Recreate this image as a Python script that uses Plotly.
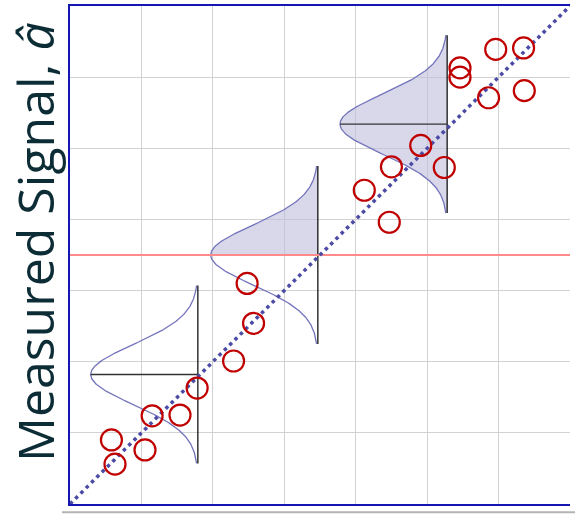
import numpy as np
import plotly.graph_objects as go

# Measured signal vs. true flaw size (arbitrary units)
flaw_size = [0.58, 0.63, 1.05, 1.15, 1.54, 1.78, 2.29, 2.57, 2.48,
             4.12, 4.47, 4.50, 4.91, 5.24, 5.46, 5.46, 5.86, 5.96, 6.35, 6.36]
signal = [0.90, 0.56, 0.76, 1.24, 1.25, 1.63, 2.01, 2.54, 3.10,
          4.41, 3.96, 4.74, 5.04, 4.73, 6.13, 6.00, 5.71, 6.39, 6.41, 5.81]

# Scatter distributions (mean of signal) drawn at three flaw sizes
dist_x = [1.79, 3.47, 5.28]
dist_y = [1.82, 3.50, 5.34]
dist_fill = ["none", "upper", "full"]
dist_sigma = 0.42
dist_height = 1.5
dist_half_span = 1.25

# Decision threshold on the signal
threshold = 3.5

axis_max = 7

fig = go.Figure()

curve_color = "#7474bc"
fill_color = "rgba(190,190,220,0.6)"

for cx, cy, mode in zip(dist_x, dist_y, dist_fill):
    yy = np.linspace(cy - dist_half_span, cy + dist_half_span, 301)
    xx = cx - dist_height * np.exp(-0.5 * ((yy - cy) / dist_sigma) ** 2)
    if mode != "none":
        sel = yy >= cy if mode == "upper" else np.ones_like(yy, dtype=bool)
        px = np.concatenate([[cx], xx[sel], [cx]])
        py = np.concatenate([[yy[sel][0]], yy[sel], [yy[sel][-1]]])
        fig.add_trace(go.Scatter(x=px, y=py, mode="lines", fill="toself",
                                 fillcolor=fill_color, line=dict(width=0),
                                 hoverinfo="skip", showlegend=False))
    fig.add_trace(go.Scatter(x=xx, y=yy, mode="lines",
                             line=dict(color=curve_color, width=1.3),
                             hoverinfo="skip", showlegend=False))
    # mean marker lines
    fig.add_trace(go.Scatter(x=[cx, cx], y=[cy - dist_half_span, cy + dist_half_span],
                             mode="lines", line=dict(color="black", width=1.2),
                             hoverinfo="skip", showlegend=False))
    fig.add_trace(go.Scatter(x=[cx - dist_height, cx], y=[cy, cy],
                             mode="lines", line=dict(color="#333333", width=1.4),
                             hoverinfo="skip", showlegend=False))

# Threshold line
fig.add_trace(go.Scatter(x=[0, axis_max], y=[threshold, threshold], mode="lines",
                         line=dict(color="#ff8a8a", width=2),
                         hoverinfo="skip", showlegend=False))

# One-to-one reference line
fig.add_trace(go.Scatter(x=[0, axis_max], y=[0, axis_max], mode="lines",
                         line=dict(color="#4b4ba6", width=3.5, dash="3.5px,4px"),
                         hoverinfo="skip", showlegend=False))

# Observations
fig.add_trace(go.Scatter(x=flaw_size, y=signal, mode="markers",
                         marker=dict(symbol="circle-open", size=21,
                                     color="#c00000", line=dict(width=2.2)),
                         showlegend=False))

fig.update_xaxes(range=[0, axis_max], dtick=1, showticklabels=False, ticks="",
                 showgrid=True, gridcolor="#d2d2d2", gridwidth=1, zeroline=False,
                 showline=True, linecolor="#1515b5", linewidth=2, mirror=True)
fig.update_yaxes(range=[0, axis_max], dtick=1, showticklabels=False, ticks="",
                 showgrid=True, gridcolor="#d2d2d2", gridwidth=1, zeroline=False,
                 showline=True, linecolor="#1515b5", linewidth=2)

fig.add_annotation(text="Measured Signal, <i>â</i>", xref="paper", yref="paper",
                   x=-0.07, y=0.526, xanchor="center", yanchor="middle",
                   textangle=-90, showarrow=False, borderpad=0,
                   font=dict(family="Open Sans", size=50, color="#0c2c36"))

# slide shadow along the bottom edge
fig.add_shape(type="line", xref="paper", yref="paper", x0=-0.016, x1=1.01,
              y0=-0.0165, y1=-0.0165, line=dict(color="#b4b4b4", width=2))

fig.update_layout(width=575, height=514, margin=dict(l=70, r=5, t=6, b=10),
                  plot_bgcolor="white", paper_bgcolor="white")

fig.write_html("out.html")
